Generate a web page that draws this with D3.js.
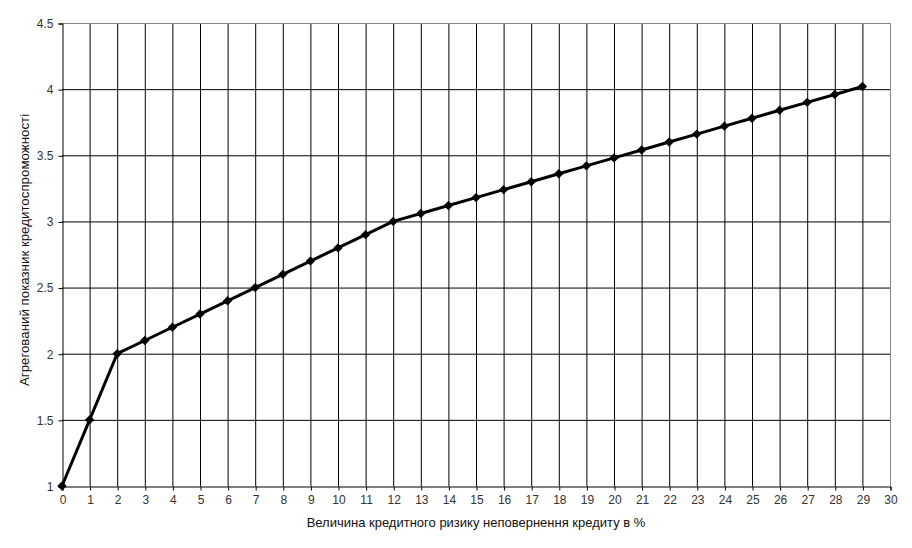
<!DOCTYPE html>
<html><head><meta charset="utf-8">
<script src="https://cdn.jsdelivr.net/npm/d3@7"></script>
<style>body{margin:0;background:#fff}svg{display:block}text{font-family:"Liberation Sans",Arial,sans-serif}</style>
</head><body><svg id="c" width="912" height="548"></svg>
<script>
const xValues = [0,1,2,3,4,5,6,7,8,9,10,11,12,13,14,15,16,17,18,19,20,21,22,23,24,25,26,27,28,29];
const yValues = [1,1.5,2.0,2.1,2.2,2.3,2.4,2.5,2.6,2.7,2.8,2.9,3.0,3.06,3.12,3.18,3.24,3.30,3.36,3.42,3.48,3.54,3.60,3.66,3.72,3.78,3.84,3.90,3.96,4.02];
const xTicks = d3.range(0,31,1);
const yTicks = [1,1.5,2,2.5,3,3.5,4,4.5];
const xTitle = "Величина кредитного ризику неповернення кредиту в %";
const yTitle = "Агрегований показник кредитоспроможності";

const svg = d3.select("#c");
const L=62,R=890,T=23,B=486;
const x = d3.scaleLinear().domain([0,30]).range([L,R]);
const y = d3.scaleLinear().domain([1,4.5]).range([B,T]);

const g = svg.append("g");
g.selectAll(".vg").data(xTicks.filter(d=>d>0&&d<30)).enter().append("line")
 .attr("x1",d=>x(d)+0.5).attr("x2",d=>x(d)+0.5).attr("y1",T).attr("y2",B).attr("stroke","#000").attr("stroke-width",1);
g.selectAll(".hg").data(yTicks.filter(d=>d>1&&d<4.5)).enter().append("line")
 .attr("x1",L).attr("x2",R).attr("y1",d=>y(d)+0.5).attr("y2",d=>y(d)+0.5).attr("stroke","#000").attr("stroke-width",1);
g.append("line").attr("x1",L).attr("x2",R).attr("y1",T+0.5).attr("y2",T+0.5).attr("stroke","#888");
g.append("line").attr("x1",R+0.5).attr("x2",R+0.5).attr("y1",T).attr("y2",B).attr("stroke","#888");

const xa = d3.axisBottom(x).tickValues(xTicks).tickSize(4).tickPadding(5).tickFormat(d3.format("d"));
const ya = d3.axisLeft(y).tickValues(yTicks).tickSize(4).tickPadding(5).tickFormat(d=>String(d));
const gx = svg.append("g").attr("transform",`translate(0.5,${B+0.5})`).call(xa);
const gy = svg.append("g").attr("transform",`translate(${L+0.5},0.5)`).call(ya);
[gx,gy].forEach(a=>{
  a.select(".domain").attr("stroke","#000");
  a.selectAll(".tick line").attr("stroke","#000");
  a.selectAll("text").attr("font-size",12).attr("fill","#333").attr("font-family","Liberation Sans, Arial, sans-serif");
});

const pts = xValues.map((d,i)=>[d,yValues[i]]);
svg.append("path").datum(pts).attr("fill","none").attr("stroke","#000").attr("stroke-width",3)
 .attr("stroke-linejoin","round").attr("d",d3.line().x(d=>x(d[0])).y(d=>y(d[1])));
svg.selectAll(".m").data(pts).enter().append("path")
 .attr("transform",d=>`translate(${x(d[0])},${y(d[1])}) rotate(45)`)
 .attr("d",d3.symbol(d3.symbolSquare,44)()).attr("fill","#000");

svg.append("text").attr("x",476).attr("y",527).attr("text-anchor","middle").attr("font-size",13).attr("fill","#111").text(xTitle);
svg.append("text").attr("transform",`translate(29,250) rotate(-90)`).attr("text-anchor","middle").attr("font-size",13.3).attr("fill","#111").text(yTitle);
</script></body></html>
